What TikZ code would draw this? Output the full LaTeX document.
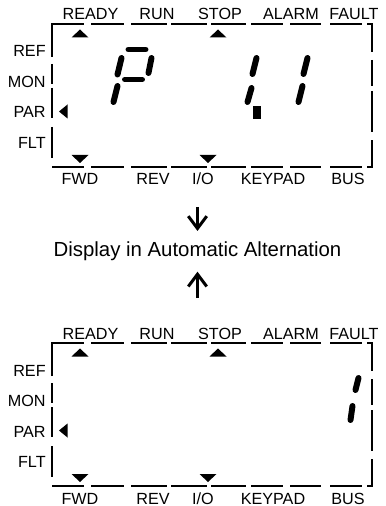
\documentclass[tikz,border=0pt]{standalone}
\usepackage{fontspec}
\setmainfont{Liberation Sans}
\usetikzlibrary{arrows.meta}

\begin{document}
\begin{tikzpicture}[x=0.02cm, y=-0.02cm,
lab/.style={font=\fontsize{9.2}{11}\selectfont, inner sep=0pt, anchor=base},
side/.style={lab, anchor=base east},
frame/.style={line width=1.2pt},
seg/.style={line width=3.4pt, line cap=round},
msg/.style={font=\fontsize{11.6}{13}\selectfont, inner xsep=0pt, inner ysep=6pt, anchor=base},
flow/.style={line width=1.7pt, -{Straight Barb[length=7pt, width=10.5pt]}}
]
\useasboundingbox (0,0) rectangle (385,506);

% the two display panels
\foreach \oy in {0,319}
{
\begin{scope}[shift={(0,\oy)}]
  % broken frame
  \draw[frame] (52,57) -- (52,24) -- (84,24);
  \draw[frame] (367,24) -- (372,24) -- (372,52);
  \draw[frame] (367,167) -- (372,167) -- (372,140);
  \foreach \xa/\xb in {91/124,131/167,171/207,211/246,251/283,290/321,330/362}
    \draw[frame] (\xa,24) -- (\xb,24);
  \foreach \xa/\xb in {52/84,91/124,131/167,171/207,211/246,251/283,290/321,330/362}
    \draw[frame] (\xa,167) -- (\xb,167);
  \foreach \ya/\yb in {64/84,88/118,127/158}
    \draw[frame] (52,\ya) -- (52,\yb);
  \foreach \ya/\yb in {60/86,91/132}
    \draw[frame] (372,\ya) -- (372,\yb);
  % status texts
  \foreach \lbl/\px in {READY/90.5,RUN/157,STOP/220,ALARM/291,FAULT/354}
    \node[lab] (\lbl\oy) at (\px,20) {\lbl};
  \foreach \lbl/\px [count=\i] in {FWD/80,REV/153,{I/O}/203,KEYPAD/273,BUS/348}
    \node[lab] (low\i-\oy) at (\px,185) {\lbl};
  \foreach \lbl/\py in {REF/57,MON/87.5,PAR/118,FLT/148.5}
    \node[side] (\lbl\oy) at (46,\py) {\lbl};
  % indicator triangles
  \foreach \px in {80,218}
    \fill (\px-8.5,37.5) -- (\px+8.5,37.5) -- (\px,29.5) -- cycle;
  \foreach \px in {80,208}
    \fill (\px-8.5,155) -- (\px+8.5,155) -- (\px,163) -- cycle;
  \fill (67.5,104.5) -- (67.5,118.5) -- (59,111.5) -- cycle;
\end{scope}
}

% upper display: P  1.1
\draw[seg] (128.5,49.5) -- (145.5,49.5);
\draw[seg] (121.5,58) -- (117.5,74.5);
\draw[seg] (151.5,58) -- (148.5,73);
\draw[seg] (125,79.5) -- (142,79.5);
\draw[seg] (117.5,86) -- (113.5,102);
\draw[seg] (256.5,58) -- (252.5,74);
\draw[seg] (251.5,88) -- (247.5,102);
\fill (253,106) rectangle (261,119);
\draw[seg] (307.5,58) -- (303.5,74);
\draw[seg] (302.5,86) -- (298.5,102);

% lower display: 1
\draw[seg] (358.5,378) -- (355.5,390);
\draw[seg] (352.5,406) -- (350.5,420);

% alternation note
\node[msg] (alt) at (197.5,256.6) {Display in Automatic Alternation};
\coordinate (from-top) at (197.5,207);
\coordinate (from-bot) at (197.5,298);
\draw[flow] (from-top) -- (alt.north);
\draw[flow] (from-bot) -- (alt.south);
\end{tikzpicture}
\end{document}
